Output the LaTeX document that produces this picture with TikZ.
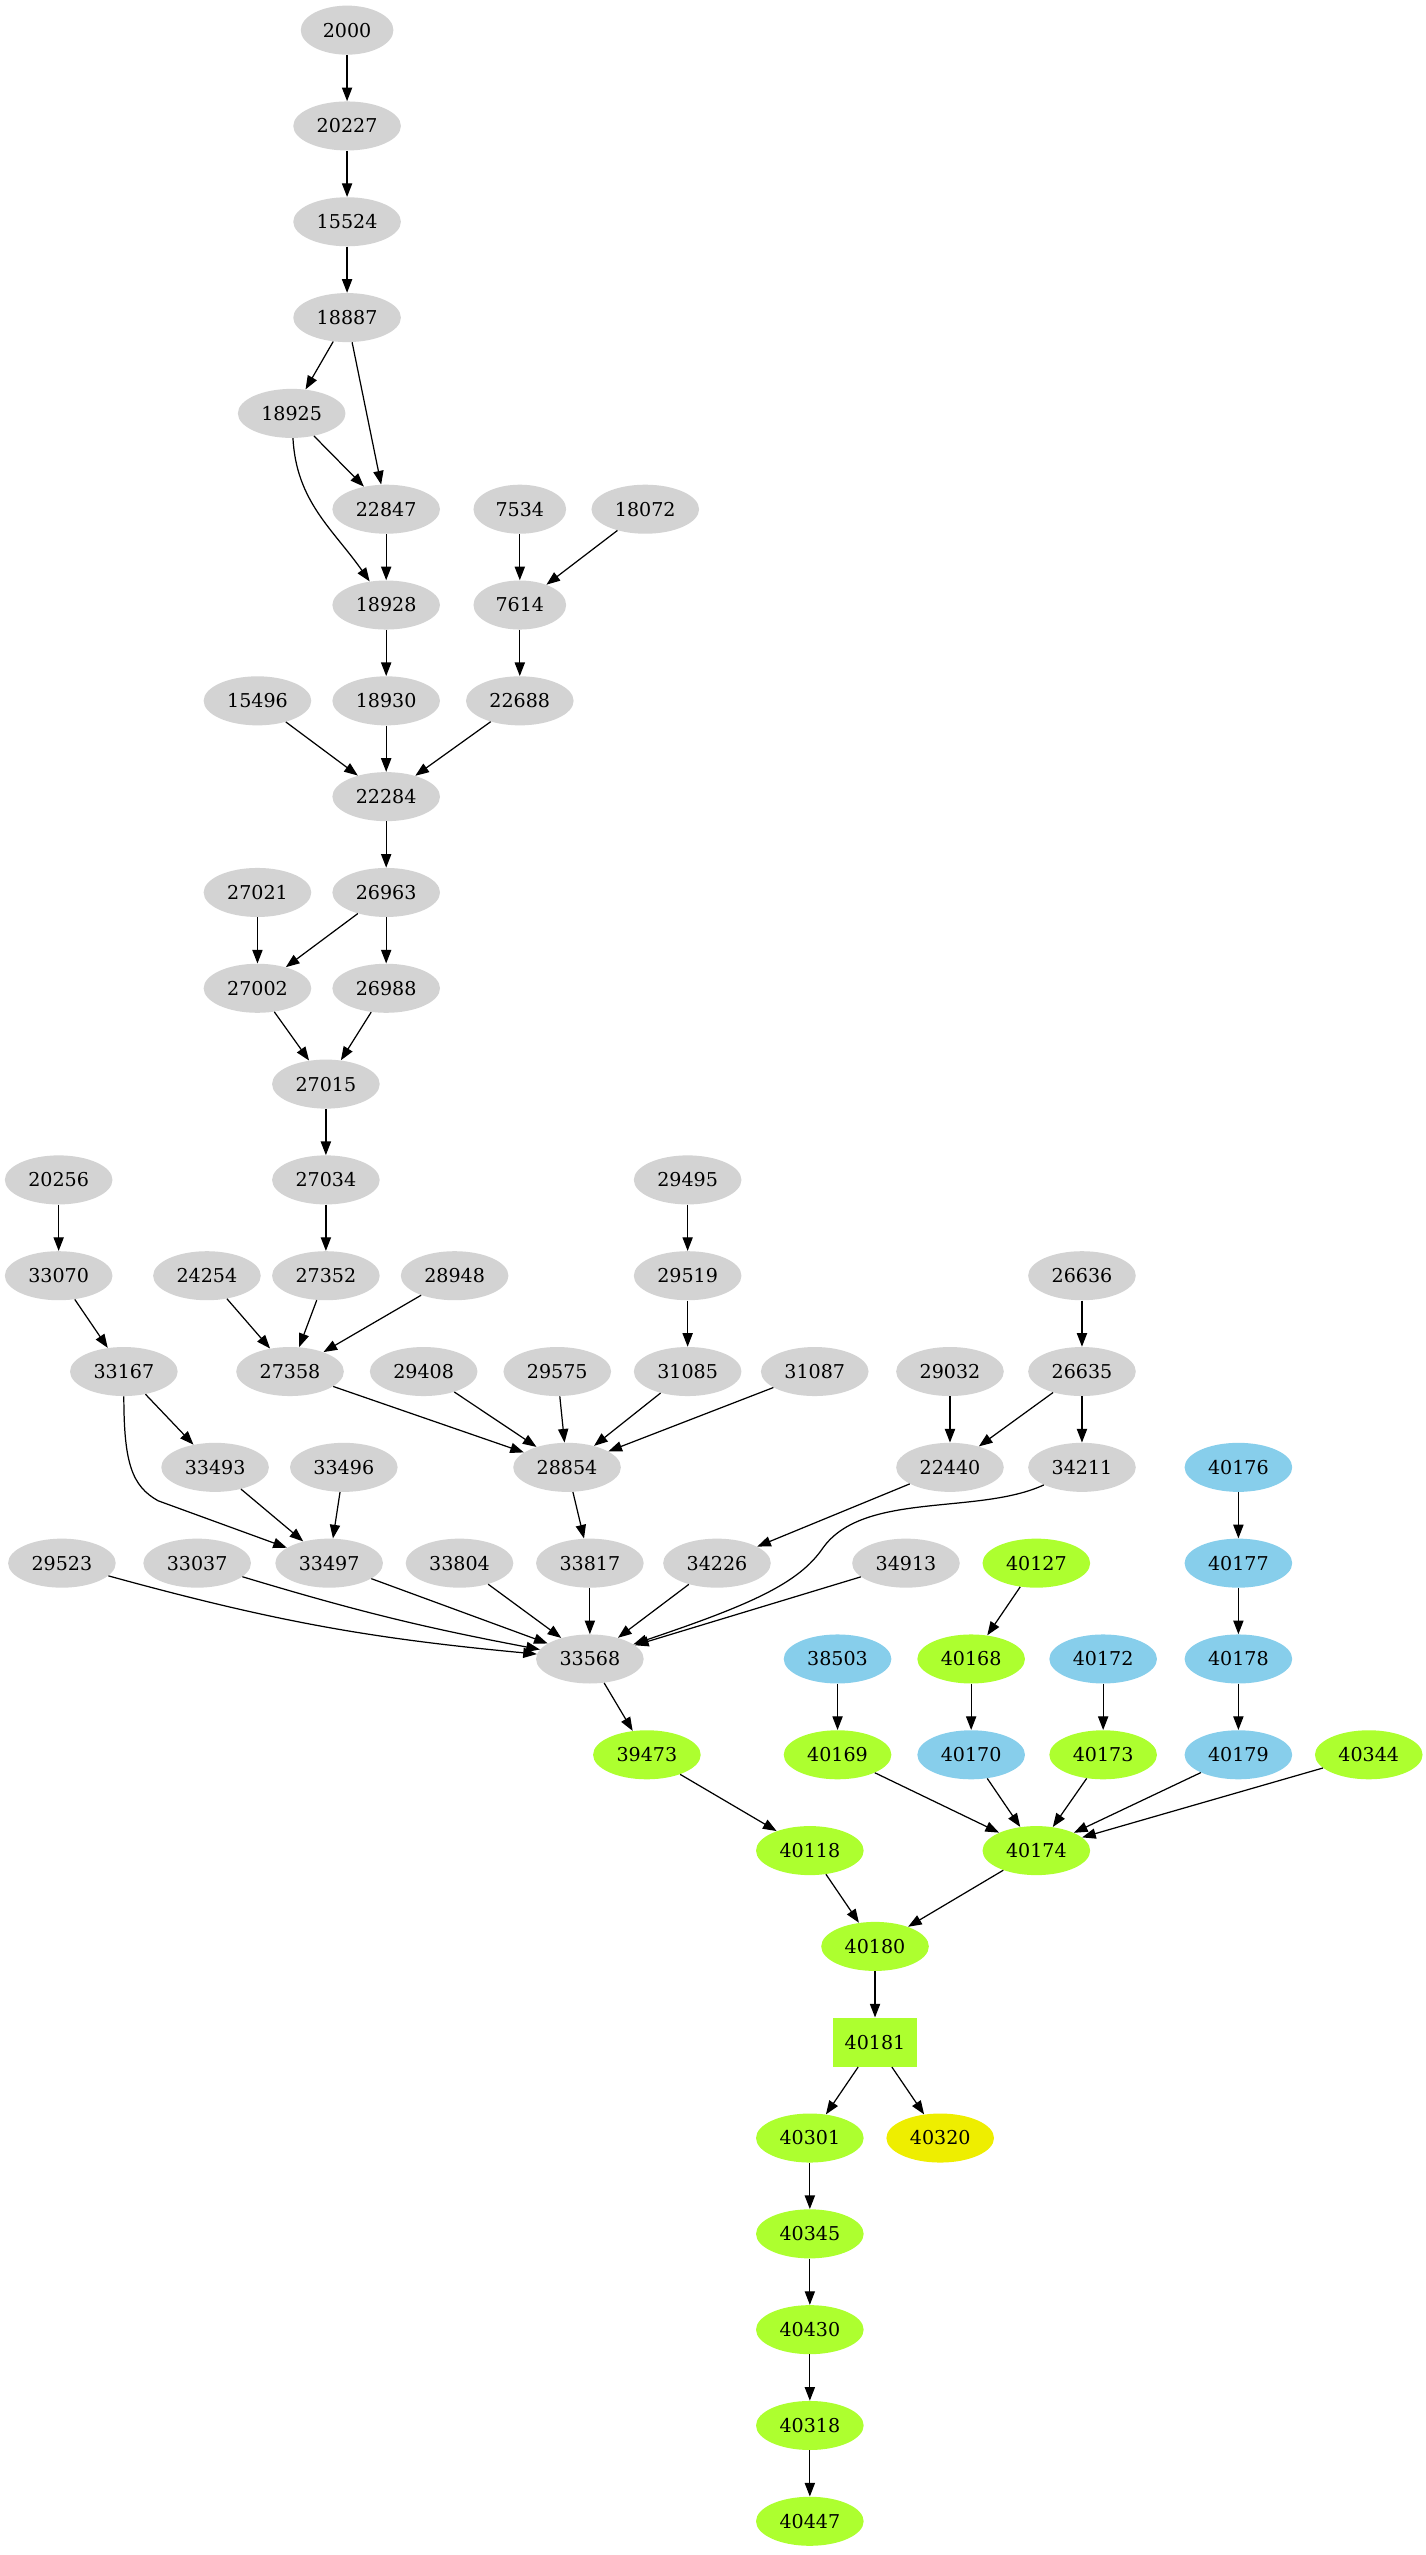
\documentclass[tikz,border=0pt]{standalone}
\usepackage{fontspec}
\setmainfont{DejaVu Serif}
\usetikzlibrary{shapes.geometric,arrows.meta}
\definecolor{lgray}{RGB}{211,211,211}
\definecolor{gyellow}{RGB}{173,255,47}
\definecolor{sblue}{RGB}{135,206,235}
\definecolor{ytwo}{RGB}{238,238,0}
\begin{document}
\begin{tikzpicture}[x=1.196pt,y=-1.196pt,
  every node/.style={font=\fontsize{14}{16}\selectfont},
  gv/.style={ellipse,inner sep=0pt,minimum width=79pt,minimum height=36pt},
  gvs/.style={gv,minimum width=68pt},
  gnode/.style={gv,fill=lgray},
  gsnode/.style={gvs,fill=lgray},
  lnode/.style={gv,fill=gyellow},
  bnode/.style={gv,fill=sblue},
  ynode/.style={gv,fill=ytwo},
  boxnode/.style={rectangle,fill=gyellow,inner sep=0pt,minimum width=62pt,minimum height=36pt},
  edge/.style={-{Triangle[length=10pt,width=7.5pt]},line width=0.9pt}]
\useasboundingbox (0,0) rectangle (875,1568);
\node[gsnode] (n2000) at (213,18.5) {2000};
\node[gnode] (n20227) at (213,77.3) {20227};
\node[gnode] (n15524) at (213,136.1) {15524};
\node[gnode] (n18887) at (213,194.9) {18887};
\node[gnode] (n18925) at (179,253.7) {18925};
\node[gnode] (n22847) at (237,312.5) {22847};
\node[gsnode] (n7534) at (319,312.5) {7534};
\node[gnode] (n18072) at (396,312.5) {18072};
\node[gnode] (n18928) at (237,371.3) {18928};
\node[gsnode] (n7614) at (319,371.3) {7614};
\node[gnode] (n15496) at (158,430.1) {15496};
\node[gnode] (n18930) at (237,430.1) {18930};
\node[gnode] (n22688) at (319,430.1) {22688};
\node[gnode] (n22284) at (237,488.9) {22284};
\node[gnode] (n27021) at (158,547.7) {27021};
\node[gnode] (n26963) at (237,547.7) {26963};
\node[gnode] (n27002) at (158,606.5) {27002};
\node[gnode] (n26988) at (237,606.5) {26988};
\node[gnode] (n27015) at (200,665.3) {27015};
\node[gnode] (n20256) at (36,724.1) {20256};
\node[gnode] (n27034) at (200,724.1) {27034};
\node[gnode] (n29495) at (422,724.1) {29495};
\node[gnode] (n33070) at (36,782.9) {33070};
\node[gnode] (n24254) at (127,782.9) {24254};
\node[gnode] (n27352) at (200,782.9) {27352};
\node[gnode] (n28948) at (279,782.9) {28948};
\node[gnode] (n29519) at (422,782.9) {29519};
\node[gnode] (n26636) at (664,782.9) {26636};
\node[gnode] (n33167) at (76,841.7) {33167};
\node[gnode] (n27358) at (178,841.7) {27358};
\node[gnode] (n29408) at (260,841.7) {29408};
\node[gnode] (n29575) at (342,841.7) {29575};
\node[gnode] (n31085) at (422,841.7) {31085};
\node[gnode] (n31087) at (500,841.7) {31087};
\node[gnode] (n29032) at (583,841.7) {29032};
\node[gnode] (n26635) at (664,841.7) {26635};
\node[gnode] (n33493) at (132,900.5) {33493};
\node[gnode] (n33496) at (211,900.5) {33496};
\node[gnode] (n28854) at (348,900.5) {28854};
\node[gnode] (n22440) at (583,900.5) {22440};
\node[gnode] (n34211) at (664,900.5) {34211};
\node[bnode] (n40176) at (760,900.5) {40176};
\node[gnode] (n29523) at (38,959.3) {29523};
\node[gnode] (n33037) at (121,959.3) {33037};
\node[gnode] (n33497) at (202,959.3) {33497};
\node[gnode] (n33804) at (282,959.3) {33804};
\node[gnode] (n33817) at (362,959.3) {33817};
\node[gnode] (n34226) at (440,959.3) {34226};
\node[gnode] (n34913) at (556,959.3) {34913};
\node[lnode] (n40127) at (636,959.3) {40127};
\node[bnode] (n40177) at (760,959.3) {40177};
\node[gnode] (n33568) at (362,1018.1) {33568};
\node[bnode] (n38503) at (514,1018.1) {38503};
\node[lnode] (n40168) at (596,1018.1) {40168};
\node[bnode] (n40172) at (677,1018.1) {40172};
\node[bnode] (n40178) at (760,1018.1) {40178};
\node[lnode] (n39473) at (397,1076.9) {39473};
\node[lnode] (n40169) at (514,1076.9) {40169};
\node[bnode] (n40170) at (596,1076.9) {40170};
\node[lnode] (n40173) at (677,1076.9) {40173};
\node[bnode] (n40179) at (760,1076.9) {40179};
\node[lnode] (n40344) at (840,1076.9) {40344};
\node[lnode] (n40118) at (497,1135.7) {40118};
\node[lnode] (n40174) at (636,1135.7) {40174};
\node[lnode] (n40180) at (537,1194.5) {40180};
\node[boxnode] (n40181) at (537,1253.3) {40181};
\node[lnode] (n40301) at (497,1312.1) {40301};
\node[ynode] (n40320) at (577,1312.1) {40320};
\node[lnode] (n40345) at (497,1370.9) {40345};
\node[lnode] (n40430) at (497,1429.7) {40430};
\node[lnode] (n40318) at (497,1488.5) {40318};
\node[lnode] (n40447) at (497,1547.3) {40447};
\draw[edge] (n2000) -- (n20227);
\draw[edge] (n20227) -- (n15524);
\draw[edge] (n15524) -- (n18887);
\draw[edge] (n18887) -- (n18925);
\draw[edge] (n18887) -- (n22847);
\draw[edge] (n18925) -- (n22847);
\draw[edge] (n18925) to[out=-87,in=125] (n18928);
\draw[edge] (n22847) -- (n18928);
\draw[edge] (n7534) -- (n7614);
\draw[edge] (n18072) -- (n7614);
\draw[edge] (n18928) -- (n18930);
\draw[edge] (n7614) -- (n22688);
\draw[edge] (n15496) -- (n22284);
\draw[edge] (n18930) -- (n22284);
\draw[edge] (n22688) -- (n22284);
\draw[edge] (n22284) -- (n26963);
\draw[edge] (n27021) -- (n27002);
\draw[edge] (n26963) -- (n27002);
\draw[edge] (n26963) -- (n26988);
\draw[edge] (n27002) -- (n27015);
\draw[edge] (n26988) -- (n27015);
\draw[edge] (n27015) -- (n27034);
\draw[edge] (n27034) -- (n27352);
\draw[edge] (n20256) -- (n33070);
\draw[edge] (n33070) -- (n33167);
\draw[edge] (n24254) -- (n27358);
\draw[edge] (n27352) -- (n27358);
\draw[edge] (n28948) -- (n27358);
\draw[edge] (n29495) -- (n29519);
\draw[edge] (n29519) -- (n31085);
\draw[edge] (n26636) -- (n26635);
\draw[edge] (n33167) -- (n33493);
\draw[edge] (n33167.south) .. controls (76,898) and (81,912) .. (97,921) -- (n33497);
\draw[edge] (n27358) -- (n28854);
\draw[edge] (n29408) -- (n28854);
\draw[edge] (n29575) -- (n28854);
\draw[edge] (n31085) -- (n28854);
\draw[edge] (n31087) -- (n28854);
\draw[edge] (n29032) -- (n22440);
\draw[edge] (n26635) -- (n22440);
\draw[edge] (n26635) -- (n34211);
\draw[edge] (n40176) -- (n40177);
\draw[edge] (n33493) -- (n33497);
\draw[edge] (n33496) -- (n33497);
\draw[edge] (n28854) -- (n33817);
\draw[edge] (n22440) -- (n34226);
\draw[edge] (n34211) .. controls (600,930) and (530,915) .. (505,950) .. controls (490,972) and (460,985) .. (n33568);
\draw[edge] (n29523) to[bend right=5] (n33568);
\draw[edge] (n33037) to[bend right=3] (n33568);
\draw[edge] (n33497) -- (n33568);
\draw[edge] (n33804) -- (n33568);
\draw[edge] (n33817) -- (n33568);
\draw[edge] (n34226) -- (n33568);
\draw[edge] (n34913) -- (n33568);
\draw[edge] (n40127) -- (n40168);
\draw[edge] (n40177) -- (n40178);
\draw[edge] (n38503) -- (n40169);
\draw[edge] (n40168) -- (n40170);
\draw[edge] (n40172) -- (n40173);
\draw[edge] (n40178) -- (n40179);
\draw[edge] (n33568) -- (n39473);
\draw[edge] (n39473) -- (n40118);
\draw[edge] (n40169) -- (n40174);
\draw[edge] (n40170) -- (n40174);
\draw[edge] (n40173) -- (n40174);
\draw[edge] (n40179) -- (n40174);
\draw[edge] (n40344) -- (n40174);
\draw[edge] (n40118) -- (n40180);
\draw[edge] (n40174) -- (n40180);
\draw[edge] (n40180) -- (n40181);
\draw[edge] (n40181) -- (n40301);
\draw[edge] (n40181) -- (n40320);
\draw[edge] (n40301) -- (n40345);
\draw[edge] (n40345) -- (n40430);
\draw[edge] (n40430) -- (n40318);
\draw[edge] (n40318) -- (n40447);
\end{tikzpicture}
\end{document}
